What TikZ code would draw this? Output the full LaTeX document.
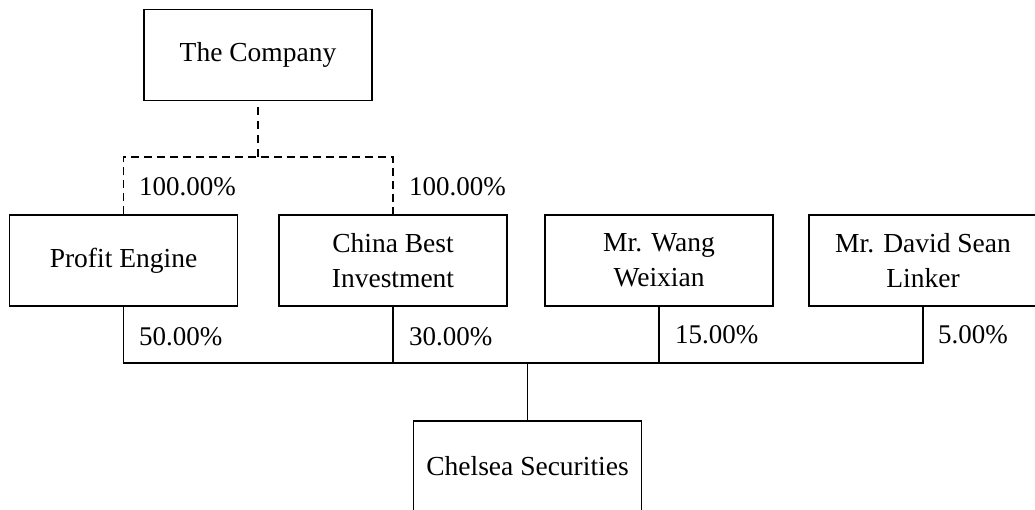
\documentclass[tikz,border=0pt]{standalone}
\usepackage{fontspec}
\setmainfont{Liberation Serif}
\begin{document}
\begin{tikzpicture}[x=1pt,y=-1pt,
  entity/.style={draw, line width=1.2pt, minimum width=228pt, minimum height=91pt, inner sep=0pt, align=center, font=\fontsize{27.5}{35}\selectfont},
  pct/.style={anchor=west, inner sep=0pt, font=\fontsize{27}{35}\selectfont},
  link/.style={line width=1.2pt},
  dlink/.style={line width=1.2pt, dash pattern=on 8pt off 5pt}]
\useasboundingbox (0,0) rectangle (1035,509);
\clip (0,0) rectangle (1035,509);
\node[entity] (company) at (258,55) {The Company};
\node[entity] (pe) at (123.5,260.5) {Profit Engine};
\node[entity] (cb) at (393,260.5) {China Best\\Investment};
\node[entity] (wang) at (659,260.5) {Mr. Wang\\Weixian};
\node[entity] (david) at (923,260.5) {Mr. David Sean\\Linker};
\node[entity] (chelsea) at (527.5,466.5) {Chelsea Securities};
\coordinate (j1) at (258,157);
\coordinate (j2) at (527.5,363);
\draw[line width=1.2pt, dash pattern=on 8pt off 6pt, dash phase=8pt] (company.south) -- (j1);
\draw[dlink] (pe.north) |- (j1) -| (cb.north);
\draw[link] (pe.south) -- (pe.south |- j2) -- (david.south |- j2) -- (david.south);
\draw[link] (cb.south) -- (cb.south |- j2);
\draw[link] (wang.south) -- (wang.south |- j2);
\draw[link] (j2) -- (chelsea.north);
\node[pct] (p1) at (139,187) {100.00\%};
\node[pct] (p2) at (409,187) {100.00\%};
\node[pct] (p3) at (139,337) {50.00\%};
\node[pct] (p4) at (409,337) {30.00\%};
\node[pct] (p5) at (675,335) {15.00\%};
\node[pct] (p6) at (938,335) {5.00\%};
\end{tikzpicture}
\end{document}
